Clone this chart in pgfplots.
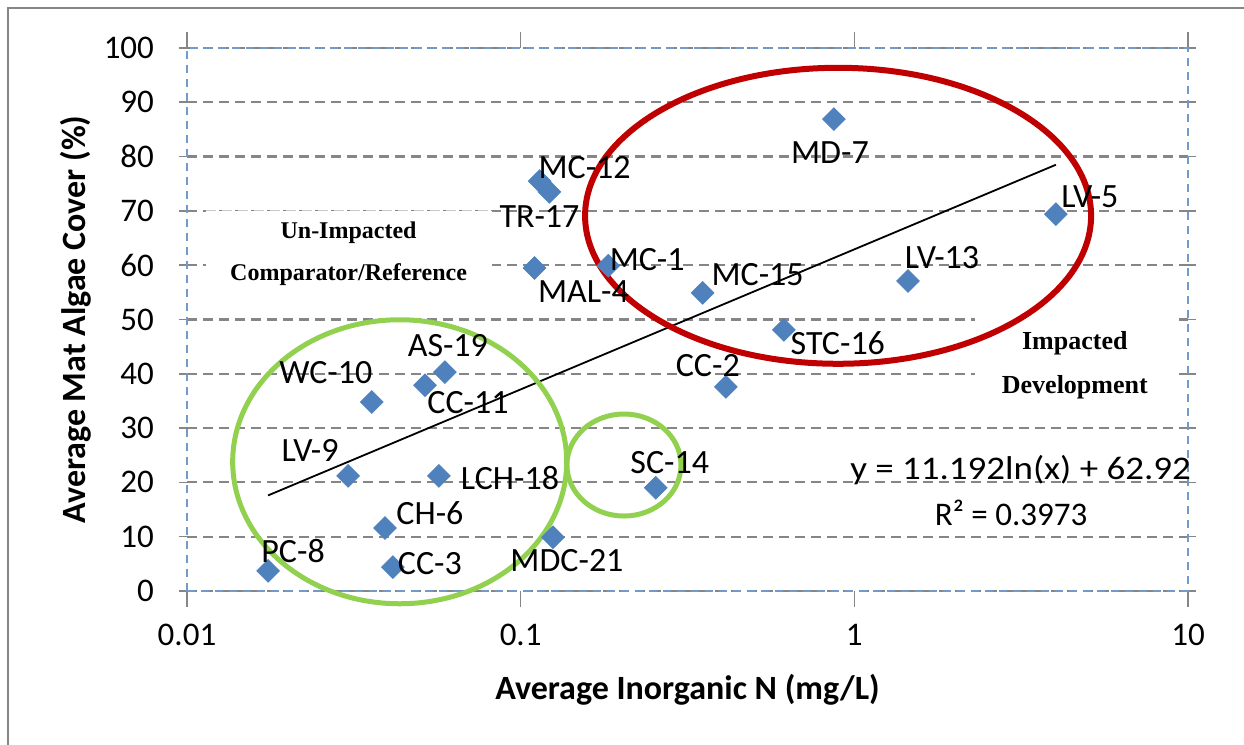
\documentclass[border=0pt]{standalone}
\usepackage{fontspec}
\setmainfont{Carlito}
\newfontfamily\boxfont{Liberation Serif}
\usepackage{graphicx}
\usepackage{pgfplots}
\pgfplotsset{compat=1.18}
\usepackage{pgfplotstable}

\definecolor{ptblue}{HTML}{4F81BD}
\definecolor{gridgray}{HTML}{868686}
\definecolor{ovalred}{HTML}{C00000}
\definecolor{ovalgreen}{HTML}{92D050}

% site, inorganic N (mg/L), mat algae cover (%), label offset (pt)
\pgfplotstableread{
x      y     dx    dy     label
0.0175 3.7   12.5  10     PC-8
0.0414 4.4   18.5  2      CC-3
0.0392 11.6  22.5  7.5    CH-6
0.125  9.9   7     -11.5  MDC-21
0.0304 21.2  -19   12.5   LV-9
0.0569 21.2  35.5  -1     LCH-18
0.254  19.0  7     12.5   SC-14
0.0358 34.8  -23   14.5   WC-10
0.0517 37.9  21.5  -8.5   CC-11
0.0593 40.3  1.5   13.5   AS-19
0.412  37.6  -9    10.5   CC-2
0.615  48.1  27    -6.5   STC-16
0.351  54.9  27.5  9      MC-15
0.110  59.5  24.5  -12    MAL-4
0.183  59.9  19.5  3      MC-1
1.449  57.1  17    11.5   LV-13
4.02   69.4  17    8.5    LV-5
0.869  86.9  -2    -16.5  MD-7
0.114  75.5  22.5  6.5    MC-12
0.122  73.5  -5    -12.5  TR-17
}\sites

\begin{document}
\begin{tikzpicture}
\useasboundingbox (0,0) rectangle (622pt,372.5pt);
\draw[gridgray, line width=1pt] (4pt,-20pt) rectangle (640pt,368.5pt);
\begin{axis}[
    at={(93.5pt,77pt)}, anchor=south west,
    scale only axis, width=500.5pt, height=271.5pt,
    xmode=log, xmin=0.01, xmax=10, ymin=0, ymax=100,
    xtick={0.01,0.1,1,10}, xticklabels={0.01,0.1,1,10},
    ytick={0,10,20,30,40,50,60,70,80,90,100},
    yticklabels={0,10,20,30,40,50,60,70,80,90,100},
    xminorticks=false,
    ymajorgrids,
    grid style={gridgray, line width=1.1pt, dash pattern=on 5pt off 3pt},
    axis line style={ptblue!80, line width=0.8pt, dash pattern=on 4pt off 3pt},
    tick style={gridgray, line width=0.8pt},
    major tick length=8pt,
    ytick align=center, xtick align=outside,
    tick label style={font=\fontsize{16.5}{16.5}\selectfont},
    xticklabel style={anchor=center, yshift=-14pt},
    yticklabel style={anchor=east, xshift=-9pt},
    xlabel={Average Inorganic N (mg/L)},
    ylabel={Average Mat Algae Cover (\%)},
    xlabel style={at={(axis description cs:0.5,-0.1823)}, anchor=center,
        font=\bfseries\fontsize{17}{17}\selectfont},
    ylabel style={at={(axis description cs:-0.111,0.5)}, anchor=center,
        font=\bfseries\fontsize{17}{17}\selectfont},
    clip=false,
]
% text boxes
\fill[white] (axis cs:0.0114,54.5) rectangle (axis cs:0.082,70);
\draw[gridgray!45, line width=0.5pt, dash pattern=on 5pt off 3pt]
    (axis cs:0.0114,70) -- (axis cs:0.082,70);
\node[align=center, inner sep=0pt,
      font=\boxfont\bfseries\fontsize{12}{21}\selectfont]
    at (axis cs:0.0305,62.2) {Un-Impacted\\Comparator/Reference};
\fill[white] (axis cs:2.30,33.3) rectangle (axis cs:9.14,51);
\node[align=center, inner sep=0pt,
      font=\boxfont\bfseries\fontsize{13}{22}\selectfont]
    at (axis cs:4.58,41.6) {Impacted\\Development};

% logarithmic trend line
\addplot[black, line width=0.9pt, no marks] coordinates {(0.0175,17.6) (4.02,78.5)};

% sites
\addplot[only marks, mark=square*, mark size=4pt,
    mark options={rotate=45, fill=ptblue, draw=ptblue},
    point meta=explicit symbolic,
    visualization depends on={\thisrow{dx}\as\dx},
    visualization depends on={\thisrow{dy}\as\dy},
    nodes near coords,
    every node near coord/.append style={anchor=center, xshift=\dx, yshift=\dy,
        black, font=\fontsize{17}{17}\selectfont, inner sep=0pt},
] table[x=x, y=y, meta=label] {\sites};

% group outlines
\draw[ovalred, line width=3pt] (axis cs:0.894,69.1) ellipse [x radius=126.5pt, y radius=74pt];
\draw[ovalgreen, line width=2.5pt] (axis cs:0.0434,23.8) ellipse [x radius=83.5pt, y radius=71pt];
\draw[ovalgreen, line width=2.5pt] (axis cs:0.204,23.2) ellipse [x radius=28.5pt, y radius=25.5pt];

% equation
\node[font=\fontsize{16.5}{16.5}\selectfont, inner sep=0pt] at (axis cs:3.15,22.3) {\scalebox{1.12}[1]{y = 11.192ln(x) + 62.92}};
\node[font=\fontsize{16.5}{16.5}\selectfont, inner sep=0pt] at (axis cs:2.95,14.4) {R² = 0.3973};
\end{axis}
\end{tikzpicture}
\end{document}
